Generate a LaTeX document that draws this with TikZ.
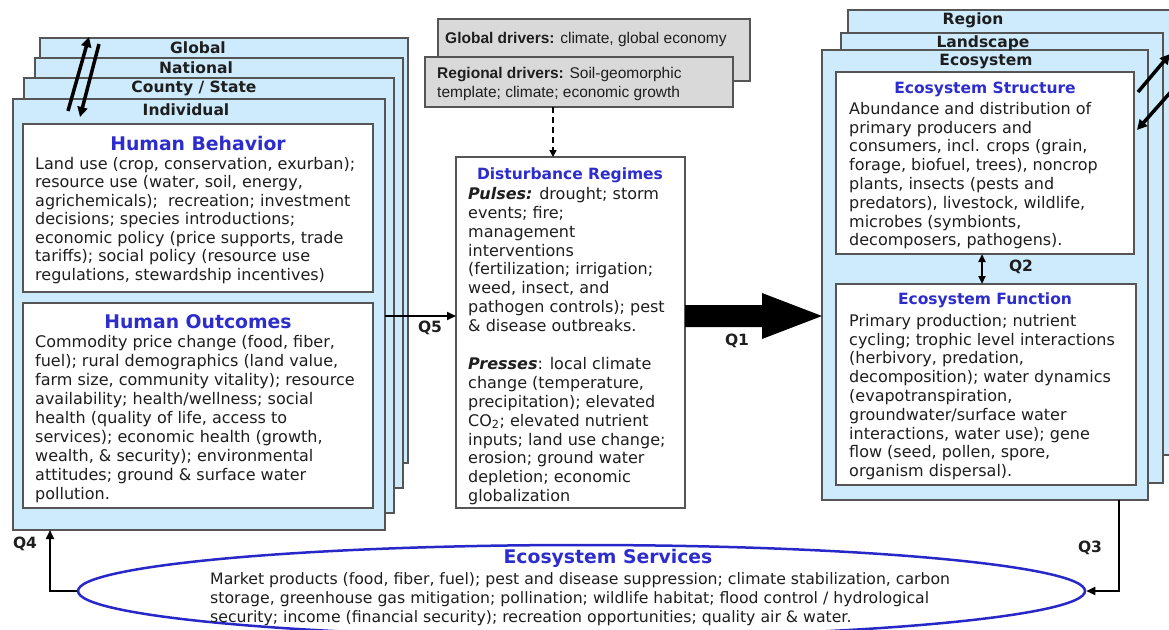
\documentclass[tikz,border=0pt]{standalone}
\usepackage{fontspec}
\setmainfont{DejaVu Sans}
\newfontfamily\arialfont{Liberation Sans}
\usetikzlibrary{arrows.meta,calc,shapes.geometric}
\definecolor{layerblue}{RGB}{205,235,252}
\definecolor{edgegray}{RGB}{85,85,85}
\definecolor{titleblue}{RGB}{45,45,205}
\definecolor{drivergray}{RGB}{217,217,217}
\definecolor{ellblue}{RGB}{40,40,200}
\definecolor{bodytext}{RGB}{30,30,30}
\tikzset{
  layer/.style={draw=edgegray, line width=1.5pt, fill=layerblue, anchor=north west, inner sep=0pt, outer sep=0pt},
  inbox/.style={draw=edgegray, line width=1.3pt, fill=white, anchor=north west, inner sep=0pt, outer sep=0pt},
  drvbox/.style={draw=edgegray, line width=1.3pt, fill=drivergray, anchor=north west, inner sep=0pt, outer sep=0pt},
  layerlabel/.style={font=\fontsize{15.5}{17}\selectfont\bfseries, inner sep=0pt, text=bodytext},
  bigtitle/.style={font=\fontsize{18.8}{21}\selectfont\bfseries, inner sep=0pt, text=titleblue},
  smalltitle/.style={font=\fontsize{15.5}{18}\selectfont\bfseries, inner sep=0pt, text=titleblue},
  body/.style={font=\fontsize{16}{18.8}\selectfont, align=left, anchor=north west, inner sep=0pt, text=bodytext},
  drvtext/.style={font=\arialfont\fontsize{15.5}{19}\selectfont, align=left, anchor=north west, inner sep=0pt, text=bodytext},
  qlabel/.style={font=\fontsize{15.5}{17}\selectfont\bfseries, inner sep=0pt, text=bodytext},
  conn/.style={line width=2pt, draw=black, -{Triangle[length=9pt,width=8pt]}},
  dconn/.style={line width=2pt, draw=black, {Triangle[length=8pt,width=7pt]}-{Triangle[length=8pt,width=7pt]}},
  fatarrow/.style={line width=3.5pt, draw=black, -{Triangle[length=10pt,width=10pt]}}
}
\begin{document}
\begin{tikzpicture}[x=1pt,y=-1pt]
\useasboundingbox (0,0) rectangle (1169,629);
\clip (0,0) rectangle (1169,629);
\fill[white] (0,0) rectangle (1169,629);

% ---------- left stack ----------
\node[layer, minimum width=368, minimum height=425] (glob) at (40,38) {};
\node[layer, minimum width=368, minimum height=430] (nat) at (35,58) {};
\node[layer, minimum width=370, minimum height=435] (cty) at (24,78) {};
\node[layer, minimum width=372, minimum height=431] (ind) at (13,99) {};
\node[layerlabel] (globl) at (198,48) {Global};
\node[layerlabel] (natl) at (196,68) {National};
\node[layerlabel] (ctyl) at (194,88) {County / State};
\node[layerlabel] (indl) at (186,110) {Individual};

\node[inbox, minimum width=350, minimum height=168] (hb) at (23,124) {};
\node[bigtitle] (hbt) at (198,143) {Human Behavior};
\node[body, font=\fontsize{16}{18.5}\selectfont] (hbx) at (35,157) {Land use (crop, conservation, exurban);\\
resource use (water, soil, energy,\\
agrichemicals);\ \ recreation; investment\\
decisions; species introductions;\\
economic policy (price supports, trade\\
tariffs); social policy (resource use\\
regulations, stewardship incentives)};

\node[inbox, minimum width=350, minimum height=205] (ho) at (23,303) {};
\node[bigtitle] (hot) at (198,322) {Human Outcomes};
\node[body, font=\fontsize{16}{19}\selectfont] (hox) at (35,335) {Commodity price change (food, fiber,\\
fuel); rural demographics (land value,\\
farm size, community vitality); resource\\
availability; health/wellness; social\\
health (quality of life, access to\\
services); economic health (growth,\\
wealth, \& security); environmental\\
attitudes; ground \& surface water\\
pollution.};

% left diagonal arrows
\coordinate (la1) at (68,111); \coordinate (la2) at (89,37);
\coordinate (lb1) at (99,44); \coordinate (lb2) at (80,117);
\draw[fatarrow] (la1) -- (la2);
\draw[fatarrow] (lb1) -- (lb2);

% ---------- drivers ----------
\node[drvbox, minimum width=312, minimum height=62] (gd) at (438,19) {};
\node[drvtext] (gdx) at (445,32) {\textbf{Global drivers:} climate, global economy};
\node[drvbox, minimum width=308, minimum height=50] (rd) at (425,57) {};
\node[drvtext] (rdx) at (437,67) {\textbf{Regional drivers:} Soil-geomorphic\\template; climate; economic growth};

% ---------- disturbance ----------
\node[inbox, minimum width=229, minimum height=351] (dist) at (456,157) {};
\node[smalltitle] (distt) at (570,175) {Disturbance Regimes};
\node[body, font=\fontsize{16}{18.9}\selectfont] (distx) at (468,187) {\textbf{\textit{Pulses:}} drought; storm\\
events; fire;\\
management\\
interventions\\
(fertilization; irrigation;\\
weed, insect, and\\
pathogen controls); pest\\
\& disease outbreaks.\\[18.9pt]
\textbf{\textit{Presses}}: local climate\\
change (temperature,\\
precipitation); elevated\\
CO\textsubscript{2}; elevated nutrient\\
inputs; land use change;\\
erosion; ground water\\
depletion; economic\\
globalization};

\coordinate (dx) at (553,0);
\draw[line width=1.5pt, dashed, dash pattern=on 6pt off 4pt, -{Triangle[length=7pt,width=7pt]}] (rd.south -| dx) -- (dist.north -| dx);

% ---------- right stack ----------
\node[layer, minimum width=340, minimum height=445] (reg) at (848,10) {};
\node[layer, minimum width=322, minimum height=450] (lnd) at (841,33) {};
\node[layer, minimum width=326, minimum height=450] (eco) at (822,50) {};
\node[layerlabel] (regl) at (973,20) {Region};
\node[layerlabel] (lndl) at (983,43) {Landscape};
\node[layerlabel] (ecol) at (986,62) {Ecosystem};

\node[inbox, minimum width=298, minimum height=182] (es) at (836,72) {};
\node[smalltitle] (est) at (985,89) {Ecosystem Structure};
\node[body] (esx) at (849,102) {Abundance and distribution of\\
primary producers and\\
consumers, incl. crops (grain,\\
forage, biofuel, trees), noncrop\\
plants, insects (pests and\\
predators), livestock, wildlife,\\
microbes (symbionts,\\
decomposers, pathogens).};

\node[inbox, minimum width=300, minimum height=201] (ef) at (836,284) {};
\node[smalltitle] (eft) at (985,300) {Ecosystem Function};
\node[body] (efx) at (849,314) {Primary production; nutrient\\
cycling; trophic level interactions\\
(herbivory, predation,\\
decomposition); water dynamics\\
(evapotranspiration,\\
groundwater/surface water\\
interactions, water use); gene\\
flow (seed, pollen, spore,\\
organism dispersal).};

\coordinate (q2x) at (982,0);
\draw[dconn] (es.south -| q2x) -- (ef.north -| q2x);
\node[qlabel] (q2) at (1021,267) {Q2};

% right diagonal arrows
\coordinate (ra1) at (1138,92); \coordinate (ra2) at (1170,54);
\coordinate (rb1) at (1176,86); \coordinate (rb2) at (1137,130);
\draw[fatarrow] (ra1) -- (ra2);
\draw[fatarrow] (rb1) -- (rb2);

% ---------- Q5 ----------
\coordinate (q5y) at (0,316);
\draw[conn] (ind.east |- q5y) -- (dist.west |- q5y);
\node[qlabel] (q5) at (430,328) {Q5};

% ---------- Q1 ----------
\coordinate (q1y) at (0,316);
\coordinate (q1s) at (dist.east |- q1y);
\coordinate (q1t) at (eco.west |- q1y);
\fill[black] (q1s) ++(0,-11) -- ++(77,0) -- ++(0,-12) -- (q1t) -- ++(-60,23) -- ++(0,-12) -- ++(-77,0) -- cycle;
\node[qlabel] (q1) at (737,341) {Q1};

% ---------- ecosystem services ----------
\node[ellipse, draw=ellblue, line width=2.5pt, minimum width=1007, minimum height=92, inner sep=0pt] (ess) at (581.5,591) {};
\node[bigtitle] (esst) at (608,558) {Ecosystem Services};
\node[body, font=\fontsize{15.7}{19}\selectfont] (essx) at (210,572) {Market products (food, fiber, fuel); pest and disease suppression; climate stabilization, carbon\\
storage, greenhouse gas mitigation; pollination; wildlife habitat; flood control / hydrological\\
security; income (financial security); recreation opportunities; quality air \& water.};

% ---------- Q3, Q4 ----------
\coordinate (q3x) at (1119,0);
\draw[conn] (eco.south -| q3x) |- (ess.east);
\node[qlabel] (q3) at (1090,548) {Q3};
\coordinate (q4x) at (50,0);
\draw[conn] (ess.west) -| (ind.south -| q4x);
\node[qlabel] (q4) at (25,544) {Q4};
\end{tikzpicture}
\end{document}
